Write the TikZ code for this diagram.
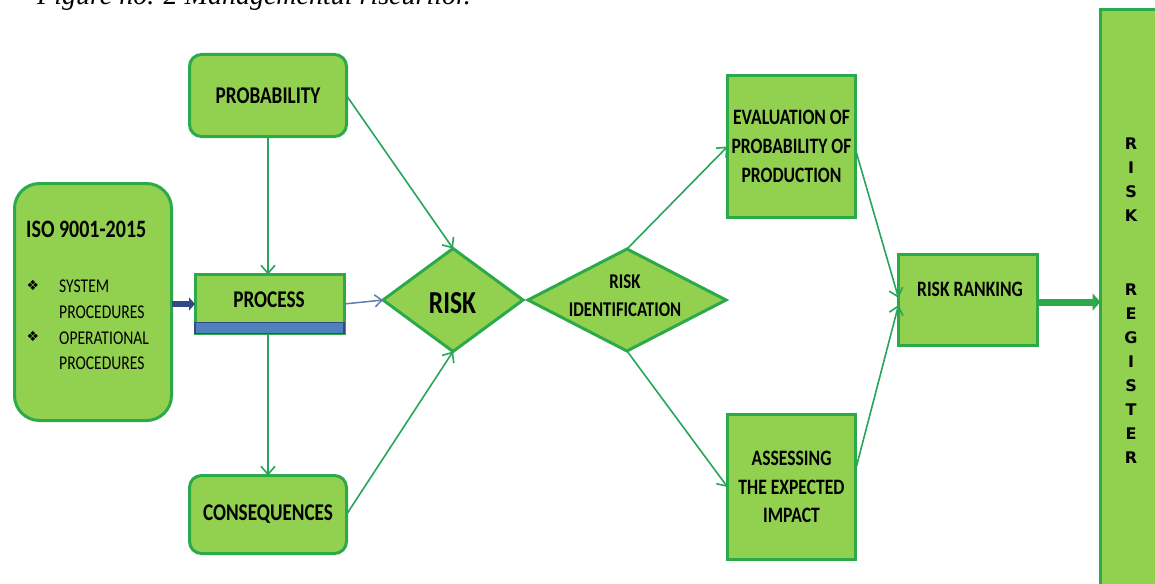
\documentclass[tikz,border=0pt]{standalone}
\usepackage{fontspec}
\usetikzlibrary{arrows.meta,shapes.geometric}
\newfontfamily\cfont[FakeStretch=0.8]{Carlito}
\newfontfamily\capfont{Liberation Serif}
\newfontfamily\symfont{DejaVu Sans}
\definecolor{boxfill}{RGB}{146,208,80}
\definecolor{boxline}{RGB}{44,170,74}
\definecolor{arrline}{RGB}{40,165,90}
\definecolor{procblue}{RGB}{79,129,189}
\definecolor{darkblue}{RGB}{50,75,135}
\definecolor{greyblue}{RGB}{95,125,180}
\begin{document}
\begin{tikzpicture}[x=1pt,y=-1pt,
  box/.style={draw=boxline, fill=boxfill, line width=3pt, inner sep=0pt, outer sep=0pt, align=center},
  lbl/.style={inner sep=0pt, align=center, font=\cfont\bfseries\fontsize{22}{28.5}\selectfont},
  conn/.style={draw=arrline, line width=1.6pt, -{Straight Barb[length=8pt,width=14pt]}},
]
\clip (0,0) rectangle (1155,583);
\fill[white] (0,0) rectangle (1155,583);

% caption (cut at the top, as in the source)
\node[anchor=base west, inner sep=0pt, font=\capfont\itshape\fontsize{28}{30}\selectfont] (cap) at (37,5) {Figure no. 2 Managementul riscurilor.};

% boxes
\node[box, rounded corners=12pt, minimum width=157pt, minimum height=82pt, font=\cfont\bfseries\fontsize{24}{28}\selectfont] (prob) at (268,95.5) {PROBABILITY};
\node[box, rounded corners=25pt, minimum width=157pt, minimum height=237pt] (iso) at (93,302) {};
\node[box, minimum width=149pt, minimum height=59pt] (proc) at (269.5,304) {};
\draw[fill=procblue, draw=darkblue, line width=1.5pt] (proc.south west) rectangle ([yshift=11pt]proc.south east);
\node[box, rounded corners=12pt, minimum width=157pt, minimum height=78pt, font=\cfont\bfseries\fontsize{24}{28}\selectfont] (cons) at (268,514.5) {CONSEQUENCES};
\node[box, shape=diamond, minimum width=140pt, minimum height=103pt] (risk) at (453,300) {};
\node[box, shape=diamond, minimum width=198pt, minimum height=102pt] (riskid) at (627,300) {};
\node[box, minimum width=128pt, minimum height=142pt, font=\cfont\bfseries\fontsize{22}{29}\selectfont] (eval) at (791.5,146.5) {EVALUATION OF\\PROBABILITY OF\\PRODUCTION};
\node[box, minimum width=128pt, minimum height=145pt, font=\cfont\bfseries\fontsize{22}{28.5}\selectfont] (assess) at (791.5,487) {ASSESSING\\THE EXPECTED\\IMPACT};
\node[box, minimum width=139pt, minimum height=91pt] (rank) at (968,300) {};
\node[box, anchor=north west, minimum width=80pt, minimum height=620pt] (reg) at (1100.5,9.5) {};

% labels
\node[lbl, font=\cfont\bfseries\fontsize{24}{28}\selectfont] (proclbl) at (269,299.5) {PROCESS};
\node[lbl, font=\cfont\bfseries\fontsize{32}{34}\selectfont] (risklbl) at (452.5,303) {RISK};
\node[lbl, anchor=north, font=\cfont\bfseries\fontsize{21}{28}\selectfont] (riskidlbl) at (625,275) {RISK\\IDENTIFICATION};
\node[lbl] (ranklbl) at (970,289.5) {RISK RANKING};
\node[lbl, anchor=north, font=\fontspec{DejaVu Sans}\bfseries\fontsize{16}{24}\selectfont] (reglbl) at (1131,138) {R\\I\\S\\K\\[50pt]R\\E\\G\\I\\S\\T\\E\\R};

% ISO text
\node[lbl, anchor=base west, font=\cfont\bfseries\fontsize{25}{28}\selectfont] (isot) at (26,237) {ISO 9001-2015};
\node[inner sep=0pt, anchor=north west, align=left, font=\cfont\fontsize{19.5}{25.7}\selectfont] (isoitems) at (59,280) {SYSTEM\\PROCEDURES\\OPERATIONAL\\PROCEDURES};
\node[inner sep=0pt, font=\symfont\fontsize{14}{15}\selectfont] (b1) at (33,285) {❖};
\node[inner sep=0pt, font=\symfont\fontsize{14}{15}\selectfont] (b2) at (33,336) {❖};

% connectors
\draw[darkblue, line width=6pt, -{Triangle[length=6pt,width=13pt]}] (iso.east |- proc.west) -- (proc.west);
\draw[greyblue, line width=1.5pt, -{Straight Barb[length=7pt,width=12pt]}] (proc.east) -- (risk.west);
\draw[conn] (prob.south) -- (prob.south |- proc.north);
\draw[conn] (prob.south |- proc.south) -- (prob.south |- cons.north);
\draw[conn] (prob.east) -- (risk.north);
\draw[conn] (cons.east) -- (risk.south);
\draw[conn] (riskid.north) -- (eval.west);
\draw[conn] (riskid.south) -- (assess.west);
\draw[conn] ([yshift=-3pt]eval.east) -- ([yshift=2pt]rank.west);
\draw[conn] ([yshift=17pt]assess.east) -- ([yshift=-5pt]rank.west);
\draw[boxline, line width=7pt, -{Triangle[length=8pt,width=17pt]}] ([yshift=-2pt]rank.east) -- ([yshift=-2pt]rank.east -| reg.west);
\end{tikzpicture}
\end{document}
